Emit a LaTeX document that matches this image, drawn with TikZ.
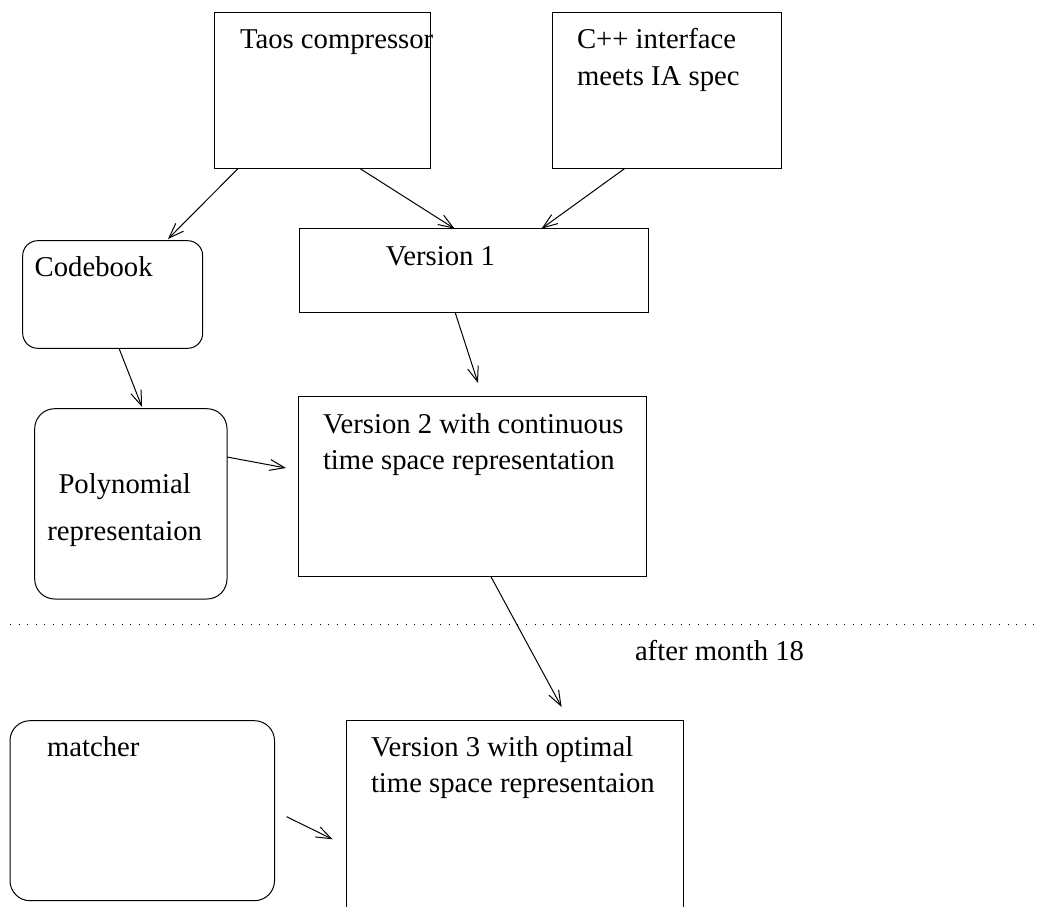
\documentclass[tikz,border=0pt]{standalone}
\usepackage{fontspec}
\setmainfont{Liberation Serif}
\usetikzlibrary{arrows.meta,calc}
\tikzset{
  box/.style={draw, line width=1pt, inner sep=0pt, outer sep=0pt, anchor=north west},
  rbox/.style={box, rounded corners=#1},
  lbl/.style={inner sep=0pt, outer sep=0pt, anchor=base west, font=\fontsize{28.7}{34}\selectfont},
  clbl/.style={lbl, anchor=base},
  conn/.style={line width=1pt, -{Straight Barb[length=15pt,width=11pt,line width=1pt]}}
}
\begin{document}
\begin{tikzpicture}[x=1pt,y=-1pt]
\useasboundingbox (0,0) rectangle (1042,907);
\clip (0,0) rectangle (1042,907);
\fill[white] (0,0) rectangle (1042,907);
% boxes
\node[box, minimum width=216.4pt, minimum height=155.6pt] (taos) at (214.3,12.7) {};
\node[box, minimum width=229.2pt, minimum height=155.6pt] (cpp) at (552.3,12.7) {};
\node[box, minimum width=349pt, minimum height=83.3pt] (v1) at (299,228.7) {};
\node[rbox=15pt, minimum width=180pt, minimum height=107.6pt] (codebook) at (22.7,240.7) {};
\node[rbox=20pt, minimum width=192.3pt, minimum height=190.3pt] (poly) at (34.7,408.7) {};
\node[box, minimum width=348.2pt, minimum height=179.6pt] (v2) at (298.5,396.7) {};
\node[rbox=20pt, minimum width=264.5pt, minimum height=180pt] (matcher) at (10,720.7) {};
\node[box, minimum width=336.6pt, minimum height=300pt] (v3) at (346.4,720.7) {};
% texts
\node[lbl] (taosT) at (240,49) {Taos compressor};
\node[lbl] (cppT1) at (577,49) {C++ interface};
\node[lbl] (cppT2) at (577,85) {meets IA spec};
\node[lbl] (v1T) at (385.8,265) {Version 1};
\node[lbl] (codebookT) at (34.7,276.7) {Codebook};
\node[clbl] (polyT1) at (124.7,493) {Polynomial};
\node[clbl] (polyT2) at (124.7,540.7) {representaion};
\node[lbl] (v2T1) at (323,433) {Version 2 with continuous};
\node[lbl] (v2T2) at (323,469) {time space representation};
\node[lbl] (afterT) at (635,660) {after month 18};
\node[lbl] (matcherT) at (47,756.7) {matcher};
\node[lbl] (v3T1) at (371,756.7) {Version 3 with optimal};
\node[lbl] (v3T2) at (371,792.7) {time space representaion};
% dotted separator
\coordinate (sepL) at (10,624);
\coordinate (sepR) at (1042,624);
\draw[line width=1pt, dash pattern=on 1pt off 7.6pt] (sepL) -- (sepR);
% connectors
\draw[conn] ($(taos.south west)+(24,0)$) -- ($(codebook.north west)+(145.3,-1.7)$);
\draw[conn] ($(taos.south west)+(145.3,0)$) -- ($(v1.north west)+(155.6,0)$);
\draw[conn] ($(cpp.south west)+(72.7,0)$) -- ($(v1.north west)+(242.5,0)$);
\draw[conn] ($(v1.south west)+(156,0)$) -- ($(v2.north west)+(179.5,-13.7)$);
\draw[conn] ($(codebook.south west)+(96.3,0)$) -- ($(poly.north west)+(107.3,-1.7)$);
\draw[conn] ($(poly.north east)+(0,48.3)$) -- ($(v2.north west)+(-12.5,71.3)$);
\draw[conn] ($(v2.south west)+(192.2,0)$) -- ($(v3.north west)+(215.2,-13.7)$);
\draw[conn] ($(matcher.north east)+(12.1,96)$) -- ($(v3.north west)+(-13.8,118.6)$);
\end{tikzpicture}
\end{document}
